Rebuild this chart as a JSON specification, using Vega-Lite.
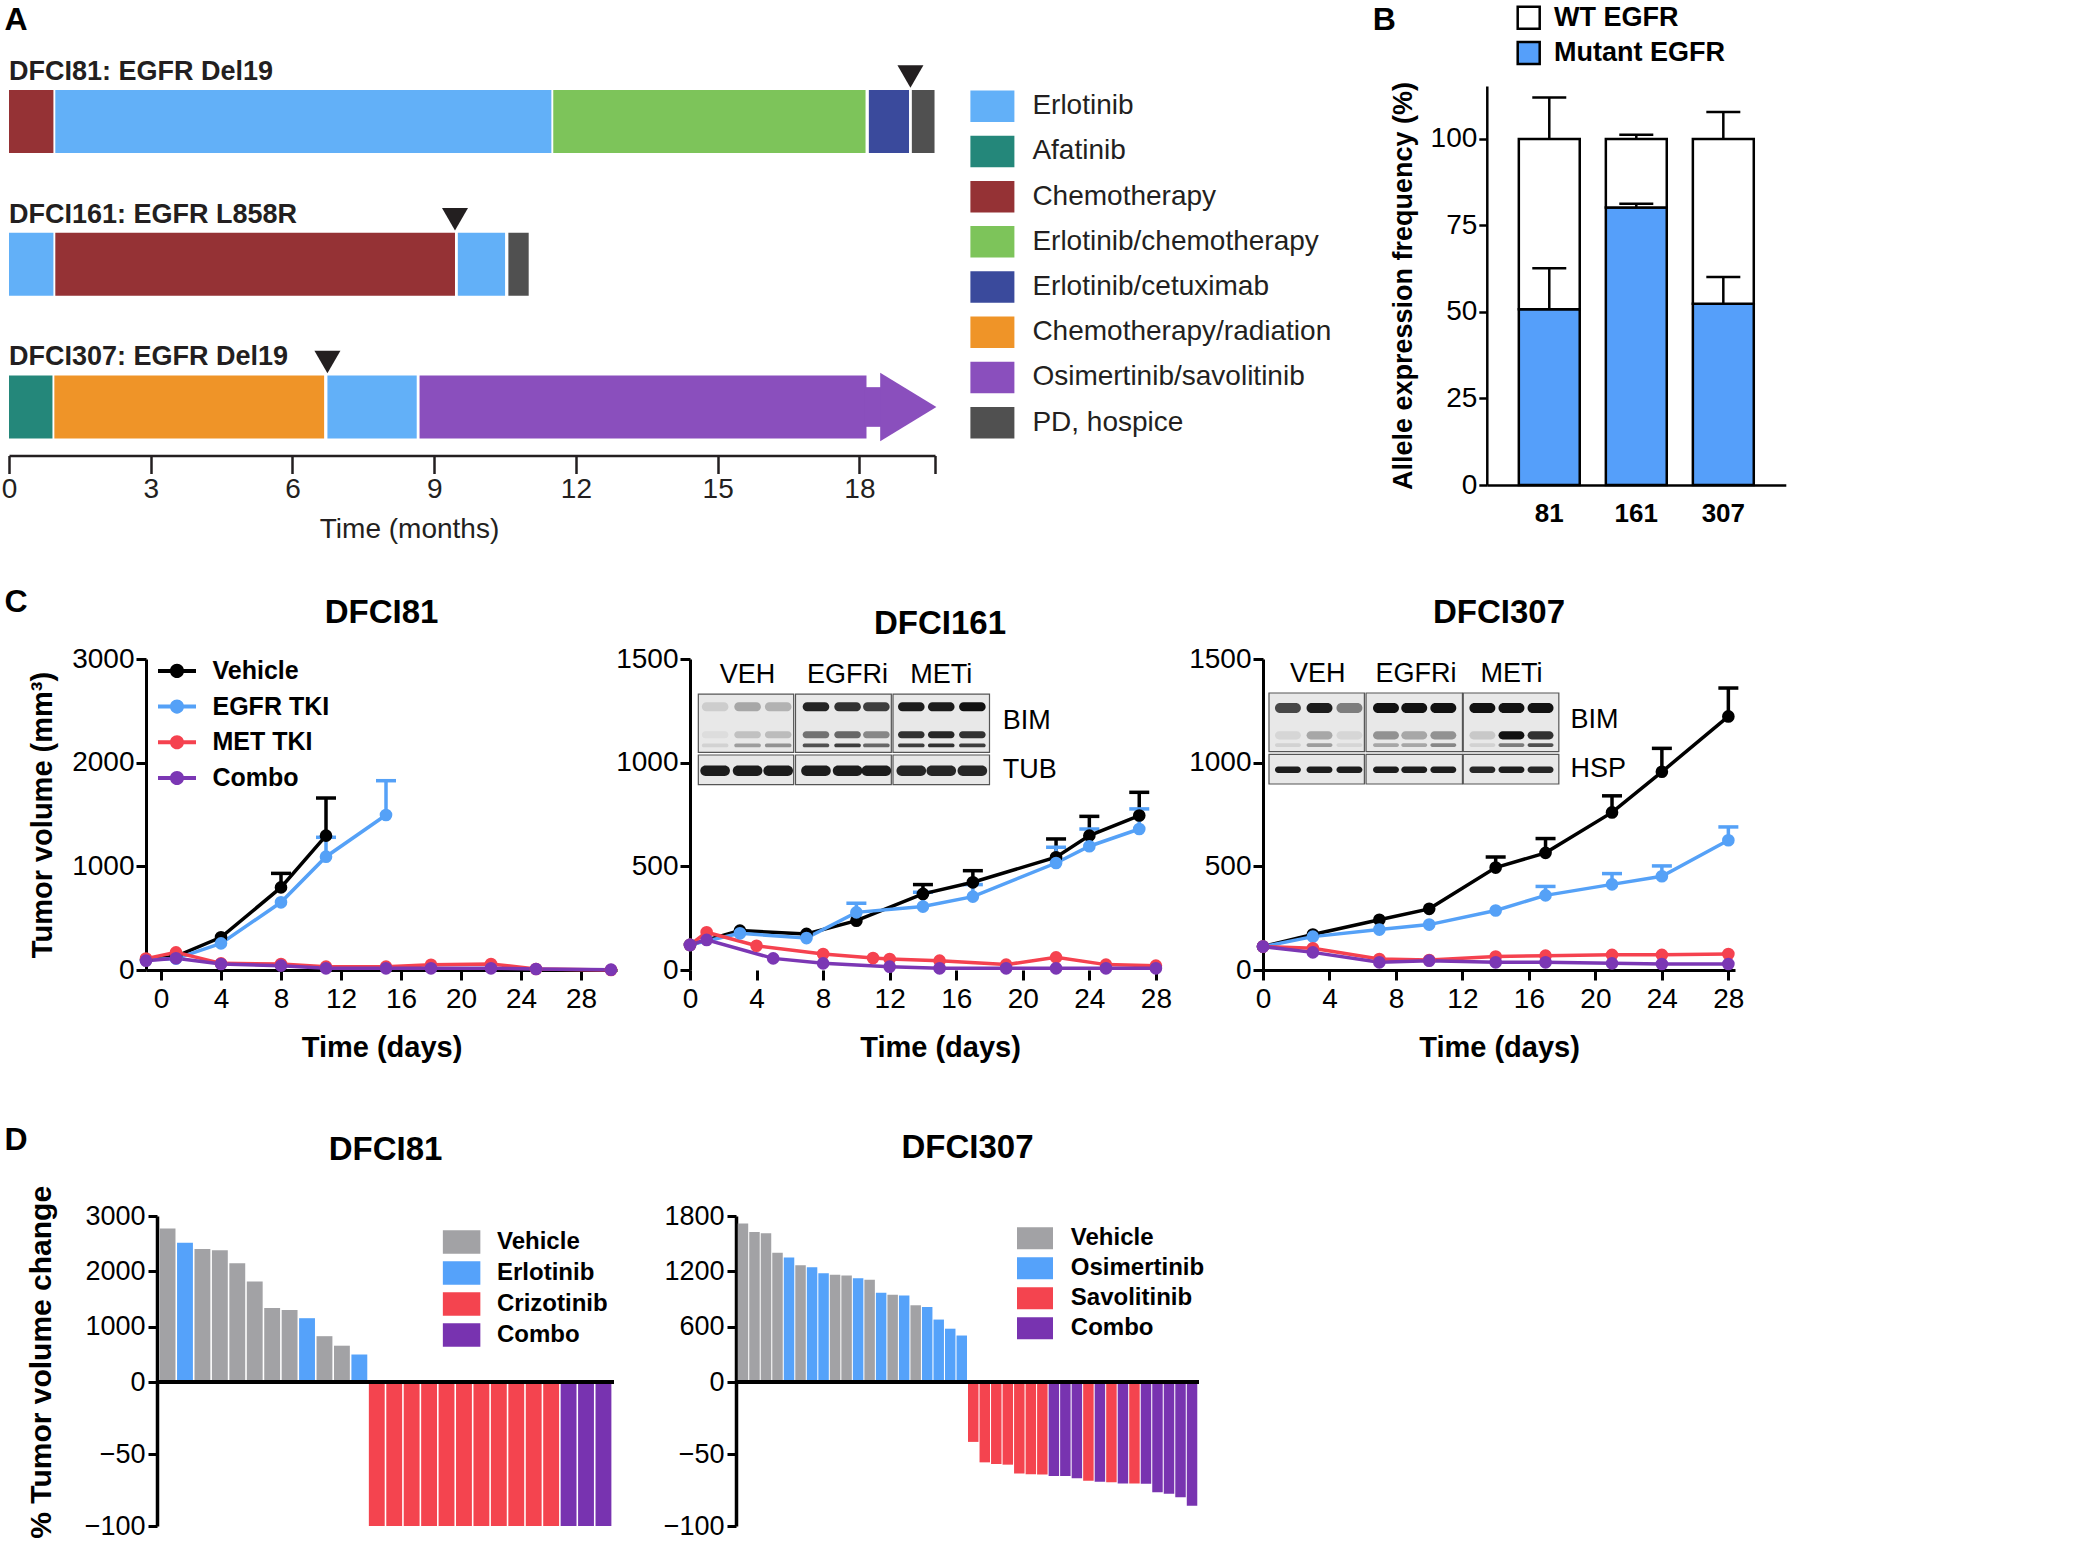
{
"$schema": "https://vega.github.io/schema/vega-lite/v6.json",
"background": "white",
"padding": {"left": 1, "top": 3, "right": 5, "bottom": 0},
"config": {
  "font": "Liberation Sans",
  "view": {"stroke": null},
  "axis": {"grid": false, "domainColor": "black", "tickColor": "black", "labelColor": "black", "titleColor": "black", "labelFont": "Liberation Sans", "titleFont": "Liberation Sans", "labelFontSize": 28, "titleFontSize": 29, "titleFontWeight": "bold", "domainWidth": 3, "tickWidth": 3, "tickSize": 10, "labelPadding": 3, "labelFlush": false, "labelOverlap": false},
  "legend": {"padding": 0, "labelFont": "Liberation Sans", "labelColor": "black", "symbolStrokeWidth": 0, "symbolOpacity": 1, "labelLimit": 500},
  "title": {"font": "Liberation Sans", "fontWeight": "bold", "color": "black", "baseline": "alphabetic"}
},
"datasets": {
  "gantt": [
    {"patient": "DFCI81", "treatment": "Chemotherapy", "start": 0, "end": 0.94},
    {"patient": "DFCI81", "treatment": "Erlotinib", "start": 0.98, "end": 11.48},
    {"patient": "DFCI81", "treatment": "Erlotinib/chemotherapy", "start": 11.52, "end": 18.13},
    {"patient": "DFCI81", "treatment": "Erlotinib/cetuximab", "start": 18.2, "end": 19.05},
    {"patient": "DFCI81", "treatment": "PD, hospice", "start": 19.11, "end": 19.59},
    {"patient": "DFCI161", "treatment": "Erlotinib", "start": 0, "end": 0.94},
    {"patient": "DFCI161", "treatment": "Chemotherapy", "start": 0.98, "end": 9.44},
    {"patient": "DFCI161", "treatment": "Erlotinib", "start": 9.5, "end": 10.5},
    {"patient": "DFCI161", "treatment": "PD, hospice", "start": 10.57, "end": 11.0},
    {"patient": "DFCI307", "treatment": "Afatinib", "start": 0, "end": 0.92},
    {"patient": "DFCI307", "treatment": "Chemotherapy/radiation", "start": 0.96, "end": 6.67},
    {"patient": "DFCI307", "treatment": "Erlotinib", "start": 6.74, "end": 8.63},
    {"patient": "DFCI307", "treatment": "Osimertinib/savolitinib", "start": 8.69, "end": 18.15}
  ],
  "patients": [
    {"patient": "DFCI81", "label": "DFCI81: EGFR Del19", "progression": 19.08},
    {"patient": "DFCI161", "label": "DFCI161: EGFR L858R", "progression": 9.44},
    {"patient": "DFCI307", "label": "DFCI307: EGFR Del19", "progression": 6.74}
  ],
  "arrow": [
    {"patient": "DFCI307", "treatment": "Osimertinib/savolitinib", "neckStart": 18.1, "neckEnd": 18.5, "head": 19.035}
  ],
  "alleles": [
    {"line": "81", "allele": "Mutant EGFR", "pct": 50.8},
    {"line": "81", "allele": "WT EGFR", "pct": 49.2},
    {"line": "161", "allele": "Mutant EGFR", "pct": 80.2},
    {"line": "161", "allele": "WT EGFR", "pct": 19.8},
    {"line": "307", "allele": "Mutant EGFR", "pct": 52.4},
    {"line": "307", "allele": "WT EGFR", "pct": 47.6}
  ],
  "alleleErr": [
    {"line": "81", "level": 50.8, "upper": 62.6},
    {"line": "81", "level": 100, "upper": 112},
    {"line": "161", "level": 80.2, "upper": 81.3},
    {"line": "161", "level": 100, "upper": 101.2},
    {"line": "307", "level": 52.4, "upper": 60.1},
    {"line": "307", "level": 100, "upper": 107.8}
  ],
  "c81": [
    {"group": "Vehicle", "day": -1, "vol": 100}, {"group": "Vehicle", "day": 1, "vol": 132}, {"group": "Vehicle", "day": 4, "vol": 315}, {"group": "Vehicle", "day": 8, "vol": 797, "upper": 932}, {"group": "Vehicle", "day": 11, "vol": 1296, "upper": 1659},
    {"group": "EGFR TKI", "day": -1, "vol": 100}, {"group": "EGFR TKI", "day": 1, "vol": 110}, {"group": "EGFR TKI", "day": 4, "vol": 257}, {"group": "EGFR TKI", "day": 8, "vol": 653}, {"group": "EGFR TKI", "day": 11, "vol": 1093, "upper": 1280}, {"group": "EGFR TKI", "day": 15, "vol": 1495, "upper": 1826},
    {"group": "MET TKI", "day": -1, "vol": 110}, {"group": "MET TKI", "day": 1, "vol": 170}, {"group": "MET TKI", "day": 4, "vol": 64}, {"group": "MET TKI", "day": 8, "vol": 58}, {"group": "MET TKI", "day": 11, "vol": 32}, {"group": "MET TKI", "day": 15, "vol": 32}, {"group": "MET TKI", "day": 18, "vol": 51}, {"group": "MET TKI", "day": 22, "vol": 58}, {"group": "MET TKI", "day": 25, "vol": 10}, {"group": "MET TKI", "day": 30, "vol": 0},
    {"group": "Combo", "day": -1, "vol": 90}, {"group": "Combo", "day": 1, "vol": 113}, {"group": "Combo", "day": 4, "vol": 58}, {"group": "Combo", "day": 8, "vol": 42}, {"group": "Combo", "day": 11, "vol": 16}, {"group": "Combo", "day": 15, "vol": 16}, {"group": "Combo", "day": 18, "vol": 16}, {"group": "Combo", "day": 22, "vol": 16}, {"group": "Combo", "day": 25, "vol": 10}, {"group": "Combo", "day": 30, "vol": 3}
  ],
  "c161": [
    {"group": "Vehicle", "day": 0, "vol": 121}, {"group": "Vehicle", "day": 3, "vol": 190}, {"group": "Vehicle", "day": 7, "vol": 174}, {"group": "Vehicle", "day": 10, "vol": 238}, {"group": "Vehicle", "day": 14, "vol": 367, "upper": 412}, {"group": "Vehicle", "day": 17, "vol": 423, "upper": 479}, {"group": "Vehicle", "day": 22, "vol": 544, "upper": 632}, {"group": "Vehicle", "day": 24, "vol": 648, "upper": 741}, {"group": "Vehicle", "day": 27, "vol": 745, "upper": 857},
    {"group": "EGFR TKI", "day": 0, "vol": 121}, {"group": "EGFR TKI", "day": 3, "vol": 177}, {"group": "EGFR TKI", "day": 7, "vol": 154}, {"group": "EGFR TKI", "day": 10, "vol": 278, "upper": 322}, {"group": "EGFR TKI", "day": 14, "vol": 306, "upper": 375}, {"group": "EGFR TKI", "day": 17, "vol": 354, "upper": 412}, {"group": "EGFR TKI", "day": 22, "vol": 516, "upper": 592}, {"group": "EGFR TKI", "day": 24, "vol": 597, "upper": 680}, {"group": "EGFR TKI", "day": 27, "vol": 680, "upper": 777},
    {"group": "MET TKI", "day": 0, "vol": 121}, {"group": "MET TKI", "day": 1, "vol": 182}, {"group": "MET TKI", "day": 4, "vol": 117}, {"group": "MET TKI", "day": 8, "vol": 77}, {"group": "MET TKI", "day": 11, "vol": 58}, {"group": "MET TKI", "day": 12, "vol": 53}, {"group": "MET TKI", "day": 15, "vol": 45}, {"group": "MET TKI", "day": 19, "vol": 26}, {"group": "MET TKI", "day": 22, "vol": 61}, {"group": "MET TKI", "day": 25, "vol": 26}, {"group": "MET TKI", "day": 28, "vol": 21},
    {"group": "Combo", "day": 0, "vol": 121}, {"group": "Combo", "day": 1, "vol": 145}, {"group": "Combo", "day": 5, "vol": 56}, {"group": "Combo", "day": 8, "vol": 32}, {"group": "Combo", "day": 12, "vol": 16}, {"group": "Combo", "day": 15, "vol": 8}, {"group": "Combo", "day": 19, "vol": 8}, {"group": "Combo", "day": 22, "vol": 8}, {"group": "Combo", "day": 25, "vol": 8}, {"group": "Combo", "day": 28, "vol": 8}
  ],
  "c307": [
    {"group": "Vehicle", "day": 0, "vol": 113}, {"group": "Vehicle", "day": 3, "vol": 171}, {"group": "Vehicle", "day": 7, "vol": 242}, {"group": "Vehicle", "day": 10, "vol": 295}, {"group": "Vehicle", "day": 14, "vol": 494, "upper": 545}, {"group": "Vehicle", "day": 17, "vol": 565, "upper": 634}, {"group": "Vehicle", "day": 21, "vol": 760, "upper": 840}, {"group": "Vehicle", "day": 24, "vol": 956, "upper": 1069}, {"group": "Vehicle", "day": 28, "vol": 1223, "upper": 1360},
    {"group": "EGFR TKI", "day": 0, "vol": 113}, {"group": "EGFR TKI", "day": 3, "vol": 161}, {"group": "EGFR TKI", "day": 7, "vol": 195}, {"group": "EGFR TKI", "day": 10, "vol": 219}, {"group": "EGFR TKI", "day": 14, "vol": 287}, {"group": "EGFR TKI", "day": 17, "vol": 360, "upper": 403}, {"group": "EGFR TKI", "day": 21, "vol": 413, "upper": 465}, {"group": "EGFR TKI", "day": 24, "vol": 452, "upper": 502}, {"group": "EGFR TKI", "day": 28, "vol": 626, "upper": 690},
    {"group": "MET TKI", "day": 0, "vol": 113}, {"group": "MET TKI", "day": 3, "vol": 105}, {"group": "MET TKI", "day": 7, "vol": 53}, {"group": "MET TKI", "day": 10, "vol": 48}, {"group": "MET TKI", "day": 14, "vol": 65}, {"group": "MET TKI", "day": 17, "vol": 69}, {"group": "MET TKI", "day": 21, "vol": 73}, {"group": "MET TKI", "day": 24, "vol": 73}, {"group": "MET TKI", "day": 28, "vol": 77},
    {"group": "Combo", "day": 0, "vol": 113}, {"group": "Combo", "day": 3, "vol": 85}, {"group": "Combo", "day": 7, "vol": 37}, {"group": "Combo", "day": 10, "vol": 45}, {"group": "Combo", "day": 14, "vol": 37}, {"group": "Combo", "day": 17, "vol": 37}, {"group": "Combo", "day": 21, "vol": 32}, {"group": "Combo", "day": 24, "vol": 29}, {"group": "Combo", "day": 28, "vol": 29}
  ],
  "blot161": [
    {"kind": "box", "day": 0.5, "day2": 6.23, "vol": 1050, "vol2": 1331}, {"kind": "box", "day": 6.34, "day2": 12.1, "vol": 1050, "vol2": 1331}, {"kind": "box", "day": 12.2, "day2": 18.0, "vol": 1050, "vol2": 1331},
    {"kind": "box", "day": 0.5, "day2": 6.23, "vol": 894, "vol2": 1037}, {"kind": "box", "day": 6.34, "day2": 12.1, "vol": 894, "vol2": 1037}, {"kind": "box", "day": 12.2, "day2": 18.0, "vol": 894, "vol2": 1037},
    {"kind": "band", "day": 0.71, "day2": 2.31, "vol": 1248, "vol2": 1292, "intensity": 0.12}, {"kind": "band", "day": 2.66, "day2": 4.26, "vol": 1248, "vol2": 1292, "intensity": 0.3}, {"kind": "band", "day": 4.5, "day2": 6.1, "vol": 1248, "vol2": 1292, "intensity": 0.25},
    {"kind": "band", "day": 6.77, "day2": 8.37, "vol": 1248, "vol2": 1292, "intensity": 0.92}, {"kind": "band", "day": 8.67, "day2": 10.27, "vol": 1248, "vol2": 1292, "intensity": 0.85}, {"kind": "band", "day": 10.4, "day2": 12.0, "vol": 1248, "vol2": 1292, "intensity": 0.8},
    {"kind": "band", "day": 12.5, "day2": 14.1, "vol": 1248, "vol2": 1292, "intensity": 0.95}, {"kind": "band", "day": 14.3, "day2": 15.9, "vol": 1248, "vol2": 1292, "intensity": 0.95}, {"kind": "band", "day": 16.17, "day2": 17.77, "vol": 1248, "vol2": 1292, "intensity": 1.0},
    {"kind": "band", "day": 0.71, "day2": 2.31, "vol": 1118, "vol2": 1152, "intensity": 0.05}, {"kind": "band", "day": 2.66, "day2": 4.26, "vol": 1118, "vol2": 1152, "intensity": 0.18}, {"kind": "band", "day": 4.5, "day2": 6.1, "vol": 1118, "vol2": 1152, "intensity": 0.2},
    {"kind": "band", "day": 6.77, "day2": 8.37, "vol": 1118, "vol2": 1152, "intensity": 0.55}, {"kind": "band", "day": 8.67, "day2": 10.27, "vol": 1118, "vol2": 1152, "intensity": 0.6}, {"kind": "band", "day": 10.4, "day2": 12.0, "vol": 1118, "vol2": 1152, "intensity": 0.45},
    {"kind": "band", "day": 12.5, "day2": 14.1, "vol": 1118, "vol2": 1152, "intensity": 0.85}, {"kind": "band", "day": 14.3, "day2": 15.9, "vol": 1118, "vol2": 1152, "intensity": 0.9}, {"kind": "band", "day": 16.17, "day2": 17.77, "vol": 1118, "vol2": 1152, "intensity": 0.85},
    {"kind": "band", "day": 0.71, "day2": 2.31, "vol": 1074, "vol2": 1092, "intensity": 0.1}, {"kind": "band", "day": 2.66, "day2": 4.26, "vol": 1074, "vol2": 1092, "intensity": 0.35}, {"kind": "band", "day": 4.5, "day2": 6.1, "vol": 1074, "vol2": 1092, "intensity": 0.4},
    {"kind": "band", "day": 6.77, "day2": 8.37, "vol": 1074, "vol2": 1092, "intensity": 0.7}, {"kind": "band", "day": 8.67, "day2": 10.27, "vol": 1074, "vol2": 1092, "intensity": 0.8}, {"kind": "band", "day": 10.4, "day2": 12.0, "vol": 1074, "vol2": 1092, "intensity": 0.6},
    {"kind": "band", "day": 12.5, "day2": 14.1, "vol": 1074, "vol2": 1092, "intensity": 0.8}, {"kind": "band", "day": 14.3, "day2": 15.9, "vol": 1074, "vol2": 1092, "intensity": 0.85}, {"kind": "band", "day": 16.17, "day2": 17.77, "vol": 1074, "vol2": 1092, "intensity": 0.8},
    {"kind": "band", "day": 0.62, "day2": 2.4, "vol": 936, "vol2": 986, "intensity": 0.95}, {"kind": "band", "day": 2.57, "day2": 4.35, "vol": 936, "vol2": 986, "intensity": 0.95}, {"kind": "band", "day": 4.41, "day2": 6.19, "vol": 936, "vol2": 986, "intensity": 0.95},
    {"kind": "band", "day": 6.68, "day2": 8.46, "vol": 936, "vol2": 986, "intensity": 0.95}, {"kind": "band", "day": 8.58, "day2": 10.36, "vol": 936, "vol2": 986, "intensity": 0.95}, {"kind": "band", "day": 10.31, "day2": 12.09, "vol": 936, "vol2": 986, "intensity": 0.95},
    {"kind": "band", "day": 12.41, "day2": 14.19, "vol": 936, "vol2": 986, "intensity": 0.9}, {"kind": "band", "day": 14.21, "day2": 15.99, "vol": 936, "vol2": 986, "intensity": 0.9}, {"kind": "band", "day": 16.08, "day2": 17.86, "vol": 936, "vol2": 986, "intensity": 0.9}
  ],
  "blot307": [
    {"kind": "box", "day": 0.36, "day2": 6.1, "vol": 1053, "vol2": 1336}, {"kind": "box", "day": 6.2, "day2": 12.0, "vol": 1053, "vol2": 1336}, {"kind": "box", "day": 12.05, "day2": 17.8, "vol": 1053, "vol2": 1336},
    {"kind": "box", "day": 0.36, "day2": 6.1, "vol": 897, "vol2": 1040}, {"kind": "box", "day": 6.2, "day2": 12.0, "vol": 897, "vol2": 1040}, {"kind": "box", "day": 12.05, "day2": 17.8, "vol": 897, "vol2": 1040},
    {"kind": "band", "day": 0.72, "day2": 2.28, "vol": 1240, "vol2": 1288, "intensity": 0.75}, {"kind": "band", "day": 2.62, "day2": 4.18, "vol": 1240, "vol2": 1288, "intensity": 0.95}, {"kind": "band", "day": 4.42, "day2": 5.98, "vol": 1240, "vol2": 1288, "intensity": 0.5},
    {"kind": "band", "day": 6.62, "day2": 8.18, "vol": 1240, "vol2": 1288, "intensity": 1.0}, {"kind": "band", "day": 8.32, "day2": 9.88, "vol": 1240, "vol2": 1288, "intensity": 1.0}, {"kind": "band", "day": 10.07, "day2": 11.63, "vol": 1240, "vol2": 1288, "intensity": 1.0},
    {"kind": "band", "day": 12.42, "day2": 13.98, "vol": 1240, "vol2": 1288, "intensity": 1.0}, {"kind": "band", "day": 14.17, "day2": 15.73, "vol": 1240, "vol2": 1288, "intensity": 1.0}, {"kind": "band", "day": 15.92, "day2": 17.48, "vol": 1240, "vol2": 1288, "intensity": 1.0},
    {"kind": "band", "day": 0.72, "day2": 2.28, "vol": 1112, "vol2": 1152, "intensity": 0.08}, {"kind": "band", "day": 2.62, "day2": 4.18, "vol": 1112, "vol2": 1152, "intensity": 0.3}, {"kind": "band", "day": 4.42, "day2": 5.98, "vol": 1112, "vol2": 1152, "intensity": 0.08},
    {"kind": "band", "day": 6.62, "day2": 8.18, "vol": 1112, "vol2": 1152, "intensity": 0.4}, {"kind": "band", "day": 8.32, "day2": 9.88, "vol": 1112, "vol2": 1152, "intensity": 0.3}, {"kind": "band", "day": 10.07, "day2": 11.63, "vol": 1112, "vol2": 1152, "intensity": 0.4},
    {"kind": "band", "day": 12.42, "day2": 13.98, "vol": 1112, "vol2": 1152, "intensity": 0.15}, {"kind": "band", "day": 14.17, "day2": 15.73, "vol": 1112, "vol2": 1152, "intensity": 1.0}, {"kind": "band", "day": 15.92, "day2": 17.48, "vol": 1112, "vol2": 1152, "intensity": 0.85},
    {"kind": "band", "day": 0.72, "day2": 2.28, "vol": 1076, "vol2": 1094, "intensity": 0.1}, {"kind": "band", "day": 2.62, "day2": 4.18, "vol": 1076, "vol2": 1094, "intensity": 0.35}, {"kind": "band", "day": 4.42, "day2": 5.98, "vol": 1076, "vol2": 1094, "intensity": 0.08},
    {"kind": "band", "day": 6.62, "day2": 8.18, "vol": 1076, "vol2": 1094, "intensity": 0.3}, {"kind": "band", "day": 8.32, "day2": 9.88, "vol": 1076, "vol2": 1094, "intensity": 0.3}, {"kind": "band", "day": 10.07, "day2": 11.63, "vol": 1076, "vol2": 1094, "intensity": 0.45},
    {"kind": "band", "day": 12.42, "day2": 13.98, "vol": 1076, "vol2": 1094, "intensity": 0.1}, {"kind": "band", "day": 14.17, "day2": 15.73, "vol": 1076, "vol2": 1094, "intensity": 0.5}, {"kind": "band", "day": 15.92, "day2": 17.48, "vol": 1076, "vol2": 1094, "intensity": 0.7},
    {"kind": "band", "day": 0.72, "day2": 2.28, "vol": 950, "vol2": 982, "intensity": 0.95}, {"kind": "band", "day": 2.62, "day2": 4.18, "vol": 950, "vol2": 982, "intensity": 0.95}, {"kind": "band", "day": 4.42, "day2": 5.98, "vol": 950, "vol2": 982, "intensity": 0.95},
    {"kind": "band", "day": 6.62, "day2": 8.18, "vol": 950, "vol2": 982, "intensity": 0.95}, {"kind": "band", "day": 8.32, "day2": 9.88, "vol": 950, "vol2": 982, "intensity": 0.95}, {"kind": "band", "day": 10.07, "day2": 11.63, "vol": 950, "vol2": 982, "intensity": 0.95},
    {"kind": "band", "day": 12.42, "day2": 13.98, "vol": 950, "vol2": 982, "intensity": 0.9}, {"kind": "band", "day": 14.17, "day2": 15.73, "vol": 950, "vol2": 982, "intensity": 0.95}, {"kind": "band", "day": 15.92, "day2": 17.48, "vol": 950, "vol2": 982, "intensity": 0.9}
  ],
  "blotlab161": [
    {"text": "VEH", "day": 3.46, "vol": 1423, "role": "lane"}, {"text": "EGFRi", "day": 9.47, "vol": 1423, "role": "lane"}, {"text": "METi", "day": 15.1, "vol": 1423, "role": "lane"},
    {"text": "BIM", "day": 18.8, "vol": 1200, "role": "protein"}, {"text": "TUB", "day": 18.8, "vol": 965, "role": "protein"}
  ],
  "blotlab307": [
    {"text": "VEH", "day": 3.3, "vol": 1427, "role": "lane"}, {"text": "EGFRi", "day": 9.2, "vol": 1427, "role": "lane"}, {"text": "METi", "day": 14.95, "vol": 1427, "role": "lane"},
    {"text": "BIM", "day": 18.5, "vol": 1208, "role": "protein"}, {"text": "HSP", "day": 18.5, "vol": 968, "role": "protein"}
  ],
  "d81": [
    {"rank": 1, "treatment": "Vehicle", "change": 2773}, {"rank": 2, "treatment": "Erlotinib", "change": 2515}, {"rank": 3, "treatment": "Vehicle", "change": 2405}, {"rank": 4, "treatment": "Vehicle", "change": 2380},
    {"rank": 5, "treatment": "Vehicle", "change": 2147}, {"rank": 6, "treatment": "Vehicle", "change": 1816}, {"rank": 7, "treatment": "Vehicle", "change": 1337}, {"rank": 8, "treatment": "Vehicle", "change": 1300},
    {"rank": 9, "treatment": "Erlotinib", "change": 1153}, {"rank": 10, "treatment": "Vehicle", "change": 828}, {"rank": 11, "treatment": "Vehicle", "change": 656}, {"rank": 12, "treatment": "Erlotinib", "change": 497},
    {"rank": 13, "treatment": "Crizotinib", "change": -100}, {"rank": 14, "treatment": "Crizotinib", "change": -100}, {"rank": 15, "treatment": "Crizotinib", "change": -100}, {"rank": 16, "treatment": "Crizotinib", "change": -100},
    {"rank": 17, "treatment": "Crizotinib", "change": -100}, {"rank": 18, "treatment": "Crizotinib", "change": -100}, {"rank": 19, "treatment": "Crizotinib", "change": -100}, {"rank": 20, "treatment": "Crizotinib", "change": -100},
    {"rank": 21, "treatment": "Crizotinib", "change": -100}, {"rank": 22, "treatment": "Crizotinib", "change": -100}, {"rank": 23, "treatment": "Crizotinib", "change": -100},
    {"rank": 24, "treatment": "Combo", "change": -100}, {"rank": 25, "treatment": "Combo", "change": -100}, {"rank": 26, "treatment": "Combo", "change": -100}
  ],
  "d307": [
    {"rank": 1, "treatment": "Vehicle", "change": 1719}, {"rank": 2, "treatment": "Vehicle", "change": 1627}, {"rank": 3, "treatment": "Vehicle", "change": 1612}, {"rank": 4, "treatment": "Vehicle", "change": 1402},
    {"rank": 5, "treatment": "Osimertinib", "change": 1351}, {"rank": 6, "treatment": "Vehicle", "change": 1266}, {"rank": 7, "treatment": "Osimertinib", "change": 1244}, {"rank": 8, "treatment": "Osimertinib", "change": 1178},
    {"rank": 9, "treatment": "Vehicle", "change": 1163}, {"rank": 10, "treatment": "Vehicle", "change": 1156}, {"rank": 11, "treatment": "Osimertinib", "change": 1126}, {"rank": 12, "treatment": "Vehicle", "change": 1108},
    {"rank": 13, "treatment": "Osimertinib", "change": 968}, {"rank": 14, "treatment": "Vehicle", "change": 946}, {"rank": 15, "treatment": "Osimertinib", "change": 939}, {"rank": 16, "treatment": "Vehicle", "change": 832},
    {"rank": 17, "treatment": "Osimertinib", "change": 813}, {"rank": 18, "treatment": "Osimertinib", "change": 677}, {"rank": 19, "treatment": "Osimertinib", "change": 578}, {"rank": 20, "treatment": "Osimertinib", "change": 504},
    {"rank": 21, "treatment": "Savolitinib", "change": -41.6}, {"rank": 22, "treatment": "Savolitinib", "change": -55.8}, {"rank": 23, "treatment": "Savolitinib", "change": -56.9}, {"rank": 24, "treatment": "Savolitinib", "change": -57.4},
    {"rank": 25, "treatment": "Savolitinib", "change": -63.5}, {"rank": 26, "treatment": "Savolitinib", "change": -64.0}, {"rank": 27, "treatment": "Savolitinib", "change": -64.2}, {"rank": 28, "treatment": "Combo", "change": -65.2},
    {"rank": 29, "treatment": "Combo", "change": -65.2}, {"rank": 30, "treatment": "Combo", "change": -66.8}, {"rank": 31, "treatment": "Savolitinib", "change": -68.5}, {"rank": 32, "treatment": "Combo", "change": -69.2},
    {"rank": 33, "treatment": "Savolitinib", "change": -69.6}, {"rank": 34, "treatment": "Combo", "change": -70.4}, {"rank": 35, "treatment": "Savolitinib", "change": -70.4}, {"rank": 36, "treatment": "Combo", "change": -70.6},
    {"rank": 37, "treatment": "Combo", "change": -76.5}, {"rank": 38, "treatment": "Combo", "change": -77.6}, {"rank": 39, "treatment": "Combo", "change": -80.0}, {"rank": 40, "treatment": "Combo", "change": -85.9}
  ]
},
"spacing": 42,
"resolve": {"scale": {"color": "independent"}, "legend": {"color": "independent"}},
"vconcat": [
  {
    "hconcat": [
      {
        "width": 926, "height": 369.5,
        "title": {"text": "A", "anchor": "start", "frame": "group", "fontSize": 32, "dx": -4.6, "offset": 21},
        "encoding": {
          "y": {"field": "patient", "type": "nominal", "sort": ["DFCI81", "DFCI161", "DFCI307"], "scale": {"paddingInner": 0.559, "paddingOuter": 0.0736, "align": 0.19}, "axis": null}
        },
        "layer": [
          {
            "data": {"name": "gantt"},
            "mark": {"type": "bar"},
            "encoding": {
              "x": {"field": "start", "type": "quantitative", "title": "Time (months)", "scale": {"domain": [0, 19.6], "nice": false, "zero": false},
                "axis": {"values": [0, 3, 6, 9, 12, 15, 18, 19.6], "labelExpr": "datum.value > 19 ? '' : datum.label", "format": "d", "titleFontWeight": "normal", "titleFontSize": 28, "titleX": 400, "titleY": 74, "titleBaseline": "middle", "labelFontSize": 28, "tickSize": 18, "tickWidth": 2.5, "domainWidth": 2.5, "labelPadding": 2, "labelFlush": false, "labelColor": "#231f20", "titleColor": "#231f20", "domainColor": "#231f20", "tickColor": "#231f20"}},
              "x2": {"field": "end"},
              "color": {"field": "treatment", "type": "nominal",
                "scale": {"domain": ["Erlotinib", "Afatinib", "Chemotherapy", "Erlotinib/chemotherapy", "Erlotinib/cetuximab", "Chemotherapy/radiation", "Osimertinib/savolitinib", "PD, hospice"],
                          "range": ["#62b0f8", "#24877a", "#953235", "#7dc45a", "#3a4a9c", "#ef9428", "#8a4fbd", "#505050"]},
                "legend": {"orient": "none", "legendX": 961.4, "legendY": -1.75, "title": null, "symbolType": "M -1 -0.716 H 1 V 0.716 H -1 Z", "symbolSize": 1936, "symbolStrokeWidth": 0, "labelFontSize": 28, "labelOffset": 18, "rowPadding": 7.2, "labelColor": "#231f20", "labelLimit": 500}}
            }
          },
          {
            "data": {"name": "arrow"},
            "mark": {"type": "bar", "height": {"band": 0.63}, "color": "#8a4fbd"},
            "encoding": {"x": {"field": "neckStart", "type": "quantitative", "title": "Time (months)"}, "x2": {"field": "neckEnd"}}
          },
          {
            "data": {"name": "arrow"},
            "mark": {"type": "point", "shape": "M -0.818 -1 L 0.818 0 L -0.818 1 Z", "size": 4720, "filled": true, "color": "#8a4fbd", "opacity": 1, "strokeWidth": 0},
            "encoding": {"x": {"field": "head", "type": "quantitative", "title": "Time (months)"}}
          },
          {
            "data": {"name": "patients"},
            "mark": {"type": "text", "align": "left", "baseline": "middle", "fontSize": 27, "fontWeight": "bold", "yOffset": -49.5, "color": "#231f20"},
            "encoding": {"x": {"datum": 0}, "text": {"field": "label"}}
          },
          {
            "data": {"name": "patients"},
            "mark": {"type": "point", "shape": "triangle-down", "size": 676, "filled": true, "color": "#231f20", "opacity": 1, "yOffset": -45},
            "encoding": {"x": {"field": "progression", "type": "quantitative", "title": "Time (months)"}}
          }
        ]
      },
      {
        "width": 299, "height": 399,
        "title": {"text": "B", "anchor": "start", "frame": "group", "fontSize": 32, "dx": -114, "offset": -33},
        "encoding": {
          "x": {"field": "line", "type": "nominal", "sort": ["81", "161", "307"], "scale": {"paddingInner": 0.3, "paddingOuter": 0.368},
            "axis": {"title": null, "labelFontWeight": "bold", "labelFontSize": 26, "ticks": false, "labelPadding": 15, "domainWidth": 2.5, "labelAngle": 0}}
        },
        "layer": [
          {
            "data": {"name": "alleles"},
            "mark": {"type": "bar", "stroke": "black", "strokeWidth": 2.5},
            "encoding": {
              "y": {"field": "pct", "type": "quantitative", "stack": "zero", "title": "Allele expression frequency (%)", "scale": {"domain": [0, 115.3], "nice": false},
                "axis": {"values": [0, 25, 50, 75, 100], "format": "d", "titleFontSize": 27, "titleX": -83, "titleBaseline": "middle", "tickSize": 8, "tickWidth": 2.5, "domainWidth": 2.5, "labelPadding": 2}},
              "color": {"field": "allele", "type": "nominal", "scale": {"domain": ["WT EGFR", "Mutant EGFR"], "range": ["#ffffff", "#559ffa"]},
                "legend": {"orient": "none", "legendX": 28.4, "legendY": -81.8, "title": null, "symbolType": "square", "symbolSize": 484, "symbolStrokeColor": "black", "symbolStrokeWidth": 2.5, "labelFontSize": 27, "labelFontWeight": "bold", "labelOffset": 11.8, "rowPadding": 2.4, "labelLimit": 500}},
              "order": {"field": "allele", "sort": "ascending"}
            }
          },
          {
            "data": {"name": "alleleErr"},
            "mark": {"type": "rule", "strokeWidth": 2.5, "color": "black"},
            "encoding": {"y": {"field": "level", "type": "quantitative", "title": "Allele expression frequency (%)"}, "y2": {"field": "upper"}}
          },
          {
            "data": {"name": "alleleErr"},
            "mark": {"type": "tick", "orient": "horizontal", "size": 34, "thickness": 2.5, "color": "black", "opacity": 1},
            "encoding": {"y": {"field": "upper", "type": "quantitative", "title": "Allele expression frequency (%)"}}
          }
        ]
      }
    ],
    "spacing": 551.8,
    "bounds": "flush",
    "resolve": {"scale": {"color": "independent"}, "legend": {"color": "independent"}}
  },
  {
    "hconcat": [
      {
        "width": 63.2, "height": 311,
        "title": {"text": "C", "anchor": "start", "frame": "group", "fontSize": 32, "dx": -4.6, "offset": 39.6},
        "data": {"values": []},
        "mark": {"type": "point"},
        "encoding": {}
      },
      {
        "width": 471, "height": 311,
        "title": {"text": "DFCI81", "fontSize": 33, "anchor": "middle", "frame": "group", "offset": 15},
        "encoding": {
          "x": {"field": "day", "type": "quantitative", "title": "Time (days)", "scale": {"domain": [-1, 30.4], "nice": false, "zero": false},
            "axis": {"values": [0, 4, 8, 12, 16, 20, 24, 28], "format": "d", "titleY": 77, "titleBaseline": "middle", "labelPadding": 5}},
          "y": {"field": "vol", "type": "quantitative", "title": "Tumor volume (mm³)", "scale": {"domain": [0, 3000], "nice": false},
            "axis": {"values": [0, 1000, 2000, 3000], "format": "d", "titleX": -104, "titleBaseline": "middle", "labelPadding": 2}},
          "color": {"field": "group", "type": "nominal", "scale": {"domain": ["Vehicle", "EGFR TKI", "MET TKI", "Combo"], "range": ["#000000", "#55a1f7", "#f5424f", "#7b37b4"]},
            "legend": {"orient": "none", "legendX": 12, "legendY": -7.1, "title": null, "symbolType": "M -1 -0.105 H 1 V 0.105 H -1 Z M -0.37 0 A 0.37 0.37 0 1 1 0.37 0 A 0.37 0.37 0 1 1 -0.37 0 Z", "symbolSize": 1444, "symbolStrokeWidth": 0, "labelFontSize": 25, "labelFontWeight": "bold", "labelOffset": 16.5, "rowPadding": 3.7, "labelLimit": 500}}
        },
        "layer": [
          {"data": {"name": "c81"}, "transform": [{"filter": "isValid(datum.upper)"}], "mark": {"type": "rule", "strokeWidth": 3.5}, "encoding": {"y2": {"field": "upper"}}},
          {"data": {"name": "c81"}, "transform": [{"filter": "isValid(datum.upper)"}], "mark": {"type": "tick", "orient": "horizontal", "size": 20, "thickness": 3.5, "opacity": 1}, "encoding": {"y": {"field": "upper", "type": "quantitative", "title": "Tumor volume (mm³)"}}},
          {"data": {"name": "c81"}, "mark": {"type": "line", "strokeWidth": 3.5}, "encoding": {}},
          {"data": {"name": "c81"}, "mark": {"type": "point", "filled": true, "size": 160, "opacity": 1}, "encoding": {}}
        ]
      },
      {
        "width": 500, "height": 311,
        "title": {"text": "DFCI161", "fontSize": 33, "anchor": "middle", "frame": "group", "offset": 3.9},
        "encoding": {
          "x": {"field": "day", "type": "quantitative", "title": "Time (days)", "scale": {"domain": [0, 30.05], "nice": false, "zero": false},
            "axis": {"values": [0, 4, 8, 12, 16, 20, 24, 28], "format": "d", "titleY": 77, "titleBaseline": "middle", "labelPadding": 5, "domain": false}},
          "y": {"field": "vol", "type": "quantitative", "title": null, "scale": {"domain": [0, 1500], "nice": false},
            "axis": {"values": [0, 500, 1000, 1500], "format": "d", "labelPadding": 2}}
        },
        "layer": [
          {"data": {"name": "blot161"}, "transform": [{"filter": "datum.kind == 'box'"}], "mark": {"type": "rect", "fill": "#e8e8e8", "stroke": "#555555", "strokeWidth": 1.2}, "encoding": {"x2": {"field": "day2"}, "y2": {"field": "vol2"}}},
          {"data": {"name": "blot161"}, "transform": [{"filter": "datum.kind == 'band'"}], "mark": {"type": "rect", "fill": "#111111", "cornerRadius": 6}, "encoding": {"x2": {"field": "day2"}, "y2": {"field": "vol2"}, "opacity": {"field": "intensity", "type": "quantitative", "scale": null, "legend": null}}},
          {"data": {"name": "blotlab161"}, "transform": [{"filter": "datum.role == 'lane'"}], "mark": {"type": "text", "align": "center", "baseline": "middle", "fontSize": 27, "color": "black"}, "encoding": {"text": {"field": "text"}}},
          {"data": {"name": "blotlab161"}, "transform": [{"filter": "datum.role == 'protein'"}], "mark": {"type": "text", "align": "left", "baseline": "middle", "fontSize": 27, "color": "black"}, "encoding": {"text": {"field": "text"}}},
          {"data": {"values": [{}]}, "mark": {"type": "rule", "strokeWidth": 3, "color": "black"}, "encoding": {"x": {"datum": 0}, "x2": {"datum": 28.4}, "y": {"datum": 0}}},
          {"data": {"name": "c161"}, "transform": [{"filter": "isValid(datum.upper)"}], "mark": {"type": "rule", "strokeWidth": 3.5}, "encoding": {"y2": {"field": "upper"}, "color": {"field": "group", "type": "nominal", "scale": {"domain": ["Vehicle", "EGFR TKI", "MET TKI", "Combo"], "range": ["#000000", "#55a1f7", "#f5424f", "#7b37b4"]}, "legend": null}}},
          {"data": {"name": "c161"}, "transform": [{"filter": "isValid(datum.upper)"}], "mark": {"type": "tick", "orient": "horizontal", "size": 20, "thickness": 3.5, "opacity": 1}, "encoding": {"y": {"field": "upper", "type": "quantitative", "title": null}, "color": {"field": "group", "type": "nominal", "legend": null}}},
          {"data": {"name": "c161"}, "mark": {"type": "line", "strokeWidth": 3.5}, "encoding": {"color": {"field": "group", "type": "nominal", "legend": null}}},
          {"data": {"name": "c161"}, "mark": {"type": "point", "filled": true, "size": 160, "opacity": 1}, "encoding": {"color": {"field": "group", "type": "nominal", "legend": null}}}
        ]
      },
      {
        "width": 472, "height": 311,
        "title": {"text": "DFCI307", "fontSize": 33, "anchor": "middle", "frame": "group", "offset": 15.4},
        "encoding": {
          "x": {"field": "day", "type": "quantitative", "title": "Time (days)", "scale": {"domain": [0, 28.4], "nice": false, "zero": false},
            "axis": {"values": [0, 4, 8, 12, 16, 20, 24, 28], "format": "d", "titleY": 77, "titleBaseline": "middle", "labelPadding": 5}},
          "y": {"field": "vol", "type": "quantitative", "title": null, "scale": {"domain": [0, 1500], "nice": false},
            "axis": {"values": [0, 500, 1000, 1500], "format": "d", "labelPadding": 2}}
        },
        "layer": [
          {"data": {"name": "blot307"}, "transform": [{"filter": "datum.kind == 'box'"}], "mark": {"type": "rect", "fill": "#e8e8e8", "stroke": "#555555", "strokeWidth": 1.2}, "encoding": {"x2": {"field": "day2"}, "y2": {"field": "vol2"}}},
          {"data": {"name": "blot307"}, "transform": [{"filter": "datum.kind == 'band'"}], "mark": {"type": "rect", "fill": "#111111", "cornerRadius": 6}, "encoding": {"x2": {"field": "day2"}, "y2": {"field": "vol2"}, "opacity": {"field": "intensity", "type": "quantitative", "scale": null, "legend": null}}},
          {"data": {"name": "blotlab307"}, "transform": [{"filter": "datum.role == 'lane'"}], "mark": {"type": "text", "align": "center", "baseline": "middle", "fontSize": 27, "color": "black"}, "encoding": {"text": {"field": "text"}}},
          {"data": {"name": "blotlab307"}, "transform": [{"filter": "datum.role == 'protein'"}], "mark": {"type": "text", "align": "left", "baseline": "middle", "fontSize": 27, "color": "black"}, "encoding": {"text": {"field": "text"}}},
          {"data": {"name": "c307"}, "transform": [{"filter": "isValid(datum.upper)"}], "mark": {"type": "rule", "strokeWidth": 3.5}, "encoding": {"y2": {"field": "upper"}, "color": {"field": "group", "type": "nominal", "scale": {"domain": ["Vehicle", "EGFR TKI", "MET TKI", "Combo"], "range": ["#000000", "#55a1f7", "#f5424f", "#7b37b4"]}, "legend": null}}},
          {"data": {"name": "c307"}, "transform": [{"filter": "isValid(datum.upper)"}], "mark": {"type": "tick", "orient": "horizontal", "size": 20, "thickness": 3.5, "opacity": 1}, "encoding": {"y": {"field": "upper", "type": "quantitative", "title": null}, "color": {"field": "group", "type": "nominal", "legend": null}}},
          {"data": {"name": "c307"}, "mark": {"type": "line", "strokeWidth": 3.5}, "encoding": {"color": {"field": "group", "type": "nominal", "legend": null}}},
          {"data": {"name": "c307"}, "mark": {"type": "point", "filled": true, "size": 160, "opacity": 1}, "encoding": {"color": {"field": "group", "type": "nominal", "legend": null}}}
        ]
      }
    ],
    "spacing": 73,
    "bounds": "flush",
    "resolve": {"scale": {"color": "independent"}, "legend": {"color": "independent"}}
  },
  {
    "hconcat": [
      {
        "width": 25.2, "height": 310,
        "title": {"text": ["", "D"], "lineHeight": 19.2, "anchor": "start", "frame": "group", "fontSize": 32, "dx": -4.6, "offset": 59.3},
        "data": {"values": []},
        "mark": {"type": "point"},
        "encoding": {}
      },
      {
        "width": 457, "height": 310,
        "title": {"text": "DFCI81", "fontSize": 33, "anchor": "middle", "frame": "group", "offset": 18.4},
        "layer": [
          {
            "data": {"name": "d81"},
            "mark": {"type": "bar"},
            "encoding": {
              "x": {"field": "rank", "type": "ordinal", "scale": {"paddingInner": 0.09, "paddingOuter": 0.15}, "axis": null},
              "y": {"field": "change", "type": "quantitative", "stack": null, "title": "% Tumor volume change", "scale": {"domain": [-100, 0, 3000], "range": [310, 166, 0], "nice": false, "zero": false},
                "axis": {"values": [-100, -50, 0, 1000, 2000, 3000], "format": "d", "titleFontSize": 30, "titleX": -115.5, "titleY": 145.8, "titleBaseline": "middle", "labelFontSize": 27, "domainWidth": 3.5, "tickSize": 9, "labelPadding": 3}},
              "color": {"field": "treatment", "type": "nominal", "scale": {"domain": ["Vehicle", "Erlotinib", "Crizotinib", "Combo"], "range": ["#a2a2a5", "#55a2fa", "#f4444f", "#7833b0"]},
                "legend": {"orient": "none", "legendX": 285.6, "legendY": 6.9, "title": null, "symbolType": "M -1 -0.627 H 1 V 0.627 H -1 Z", "symbolSize": 1406, "symbolStrokeWidth": 0, "labelFontSize": 24, "labelFontWeight": "bold", "labelOffset": 16.4, "rowPadding": -2.9, "labelLimit": 500}}
            }
          },
          {"data": {"values": [{}]}, "mark": {"type": "rule", "strokeWidth": 4, "color": "black"}, "encoding": {"y": {"datum": 0}}}
        ]
      },
      {
        "width": 463, "height": 310,
        "title": {"text": "DFCI307", "fontSize": 33, "anchor": "middle", "frame": "group", "offset": 36.6},
        "layer": [
          {
            "data": {"name": "d307"},
            "mark": {"type": "bar"},
            "encoding": {
              "x": {"field": "rank", "type": "ordinal", "scale": {"paddingInner": 0.09, "paddingOuter": 0.15}, "axis": null},
              "y": {"field": "change", "type": "quantitative", "stack": null, "title": null, "scale": {"domain": [-100, 0, 1800], "range": [310, 166, 0], "nice": false, "zero": false},
                "axis": {"values": [-100, -50, 0, 600, 1200, 1800], "format": "d", "labelFontSize": 27, "domainWidth": 3.5, "tickSize": 9, "labelPadding": 3}},
              "color": {"field": "treatment", "type": "nominal", "scale": {"domain": ["Vehicle", "Osimertinib", "Savolitinib", "Combo"], "range": ["#a2a2a5", "#55a2fa", "#f4444f", "#7833b0"]},
                "legend": {"orient": "none", "legendX": 281, "legendY": 4.2, "title": null, "symbolType": "M -1 -0.611 H 1 V 0.611 H -1 Z", "symbolSize": 1296, "symbolStrokeWidth": 0, "labelFontSize": 24, "labelFontWeight": "bold", "labelOffset": 17.8, "rowPadding": -1.8, "labelLimit": 500}}
            }
          },
          {"data": {"values": [{}]}, "mark": {"type": "rule", "strokeWidth": 4, "color": "black"}, "encoding": {"y": {"datum": 0}}}
        ]
      }
    ],
    "spacing": 122,
    "bounds": "flush",
    "resolve": {"scale": {"color": "independent"}, "legend": {"color": "independent"}}
  }
]
}
